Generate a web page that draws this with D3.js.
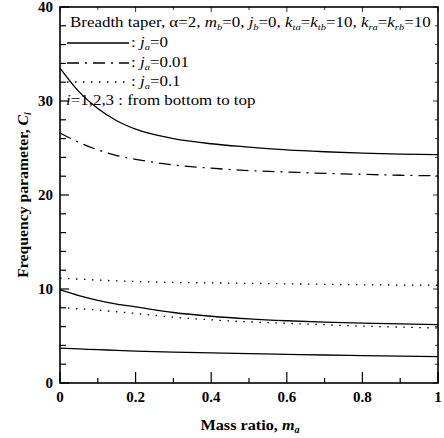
<!DOCTYPE html>
<html>
  <head>
    <meta charset="UTF-8">
    <title>Frequency parameter vs mass ratio</title>
    <script src="https://cdnjs.cloudflare.com/ajax/libs/d3/7.8.5/d3.min.js"></script>
  </head>
  <style type="text/css">
    body {
      margin: 0px;
      background: #fff;
    }
    .curve {
      fill: none;
      stroke: #000;
      stroke-width: 1.3;
    }
    .tick-label {
      font-family: "Liberation Serif", serif;
      font-weight: bold;
      font-size: 15px;
    }
    .axis-title {
      font-family: "Liberation Serif", serif;
      font-weight: bold;
      font-size: 15px;
    }
    .legend-text {
      font-family: "Liberation Serif", serif;
      font-size: 14px;
    }
  </style>
  <body>
    <div id="chart"></div>
    <script>
      // mass ratio grid shared by all curves
      const massRatio = [0, 0.05, 0.1, 0.15, 0.2, 0.3, 0.4, 0.5, 0.6, 0.7, 0.8, 0.9, 1.0];

      // j_a = 0 (solid)
      const solidI3 = [33.5, 31.0, 29.2, 27.9, 27.0, 26.0, 25.45, 25.1, 24.8, 24.6, 24.45, 24.35, 24.3];
      const solidI2 = [9.9, 9.3, 8.8, 8.4, 8.1, 7.5, 7.1, 6.82, 6.62, 6.47, 6.36, 6.28, 6.22];
      const solidI1 = [3.7, 3.62, 3.55, 3.47, 3.4, 3.28, 3.2, 3.12, 3.05, 2.98, 2.92, 2.86, 2.8];
      // j_a = 0.01 (dash-dot)
      const dashDotI3 = [26.6, 25.6, 24.8, 24.2, 23.8, 23.2, 22.85, 22.6, 22.45, 22.3, 22.2, 22.1, 22.05];
      // j_a = 0.1 (dotted)
      const dottedI3 = [11.15, 11.05, 10.95, 10.87, 10.8, 10.7, 10.65, 10.6, 10.55, 10.5, 10.45, 10.42, 10.4];
      const dottedI2 = [8.05, 7.9, 7.75, 7.58, 7.4, 7.0, 6.72, 6.5, 6.35, 6.2, 6.05, 5.95, 5.85];

      const xTicks = [0, 0.2, 0.4, 0.6, 0.8, 1];
      const xTickLabels = ["0", "0.2", "0.4", "0.6", "0.8", "1"];
      const yTicks = [0, 10, 20, 30, 40];
      const yTickLabels = ["0", "10", "20", "30", "40"];

      const dashes = {solid: null, dashdot: "12,6,2,6", dotted: "1.5,6.5"};

      const width = 444, height = 438;
      const margin = {top: 7, right: 6, bottom: 55, left: 60};

      const svg = d3.select("#chart").append("svg")
        .attr("width", width)
        .attr("height", height);

      const x = d3.scaleLinear().domain([0, 1]).range([margin.left, width - margin.right]);
      const y = d3.scaleLinear().domain([0, 40]).range([height - margin.bottom, margin.top]);

      // frame
      svg.append("rect")
        .attr("x", x(0)).attr("y", y(40))
        .attr("width", x(1) - x(0)).attr("height", y(0) - y(40))
        .attr("fill", "none").attr("stroke", "#000").attr("stroke-width", 1.6);

      // inward ticks
      const xMinor = d3.range(0, 1.0001, 0.1);
      const yMinor = d3.range(0, 40.0001, 2);
      const isMajorX = v => Math.abs(v * 5 - Math.round(v * 5)) < 1e-6;
      const isMajorY = v => v % 10 === 0;

      svg.append("g").selectAll("line").data(xMinor).join("line")
        .attr("x1", d => x(d)).attr("x2", d => x(d))
        .attr("y1", y(0)).attr("y2", d => y(0) - (isMajorX(d) ? 11 : 5))
        .attr("stroke", "#000").attr("stroke-width", 1.2);
      svg.append("g").selectAll("line").data(xMinor).join("line")
        .attr("x1", d => x(d)).attr("x2", d => x(d))
        .attr("y1", y(40)).attr("y2", d => y(40) + (isMajorX(d) ? 5 : 3))
        .attr("stroke", "#000").attr("stroke-width", 0.8);
      svg.append("g").selectAll("line").data(yMinor).join("line")
        .attr("y1", d => y(d)).attr("y2", d => y(d))
        .attr("x1", x(0)).attr("x2", d => x(0) + (isMajorY(d) ? 9 : 6))
        .attr("stroke", "#000").attr("stroke-width", 1.2);
      svg.append("g").selectAll("line").data(yMinor).join("line")
        .attr("y1", d => y(d)).attr("y2", d => y(d))
        .attr("x1", x(1)).attr("x2", d => x(1) - (isMajorY(d) ? 5 : 3))
        .attr("stroke", "#000").attr("stroke-width", 0.8);

      // tick labels
      svg.append("g").selectAll("text").data(xTicks).join("text")
        .attr("class", "tick-label")
        .attr("x", d => x(d)).attr("y", y(0) + 19)
        .attr("text-anchor", "middle")
        .text((d, i) => xTickLabels[i]);
      svg.append("g").selectAll("text").data(yTicks).join("text")
        .attr("class", "tick-label")
        .attr("x", x(0) - 7).attr("y", d => y(d) + 5)
        .attr("text-anchor", "end")
        .text((d, i) => yTickLabels[i]);

      // rich text helper: [text, "i" italic | "s" italic subscript | "r" back to baseline]
      function rich(sel, parts) {
        parts.forEach(p => {
          const t = sel.append("tspan").text(p[0]);
          if (p[1] === "i") t.attr("font-style", "italic");
          if (p[1] === "s") t.attr("font-style", "italic").attr("font-size", "0.62em").attr("dy", 3);
          if (p[1] === "r") t.attr("dy", -3);
        });
        return sel;
      }

      // axis titles
      rich(svg.append("text").attr("class", "axis-title")
        .attr("transform", "translate(250,430) scale(1.08,1)").attr("text-anchor", "middle"),
        [["Mass ratio, "], ["m", "i"], ["a", "s"]]);
      rich(svg.append("text").attr("class", "axis-title")
        .attr("transform", "translate(28," + ((y(0) + y(40)) / 2) + ") rotate(-90) scale(1.05,1)")
        .attr("text-anchor", "middle"),
        [["Frequency parameter, "], ["C", "i"], ["i", "s"]]);

      // curves
      const line = d3.line()
        .x(d => x(d[0]))
        .y(d => y(d[1]))
        .curve(d3.curveMonotoneX);

      const curves = [
        {vals: solidI3, style: "solid"},
        {vals: solidI2, style: "solid"},
        {vals: solidI1, style: "solid"},
        {vals: dashDotI3, style: "dashdot"},
        {vals: dottedI3, style: "dotted"},
        {vals: dottedI2, style: "dotted"}
      ];

      svg.append("g").selectAll("path").data(curves).join("path")
        .attr("class", "curve")
        .attr("d", c => line(massRatio.map((m, i) => [m, c.vals[i]])))
        .attr("stroke-dasharray", c => dashes[c.style]);

      // legend (the scanned type is wide, so stretch it a little)
      const stretch = 1.21;
      const legendText = (tx, ty) => svg.append("text").attr("class", "legend-text")
        .attr("transform", `translate(${tx},${ty}) scale(${stretch},1)`);

      const lx = 70;
      rich(legendText(lx, 27),
        [["Breadth taper, α=2, "], ["m", "i"], ["b", "s"], ["=0, ", "r"], ["j", "i"], ["b", "s"], ["=0, ", "r"],
         ["k", "i"], ["ta", "s"], ["=", "r"], ["k", "i"], ["tb", "s"], ["=10, ", "r"],
         ["k", "i"], ["ra", "s"], ["=", "r"], ["k", "i"], ["rb", "s"], ["=10", "r"]]);

      const legendRows = [
        {style: "solid", label: "0", yy: 43},
        {style: "dashdot", label: "0.01", yy: 63},
        {style: "dotted", label: "0.1", yy: 82}
      ];
      legendRows.forEach(r => {
        svg.append("line")
          .attr("class", "curve")
          .attr("x1", lx - 3).attr("x2", 129)
          .attr("y1", r.yy).attr("y2", r.yy)
          .attr("stroke-dasharray", dashes[r.style]);
        rich(legendText(131, r.yy + 4),
          [[": "], ["j", "i"], ["a", "s"], ["=" + r.label, "r"]]);
      });
      rich(legendText(66, 105),
        [["i", "i"], ["=1,2,3 : from bottom to top"]]);
    </script>
  </body>
</html>
